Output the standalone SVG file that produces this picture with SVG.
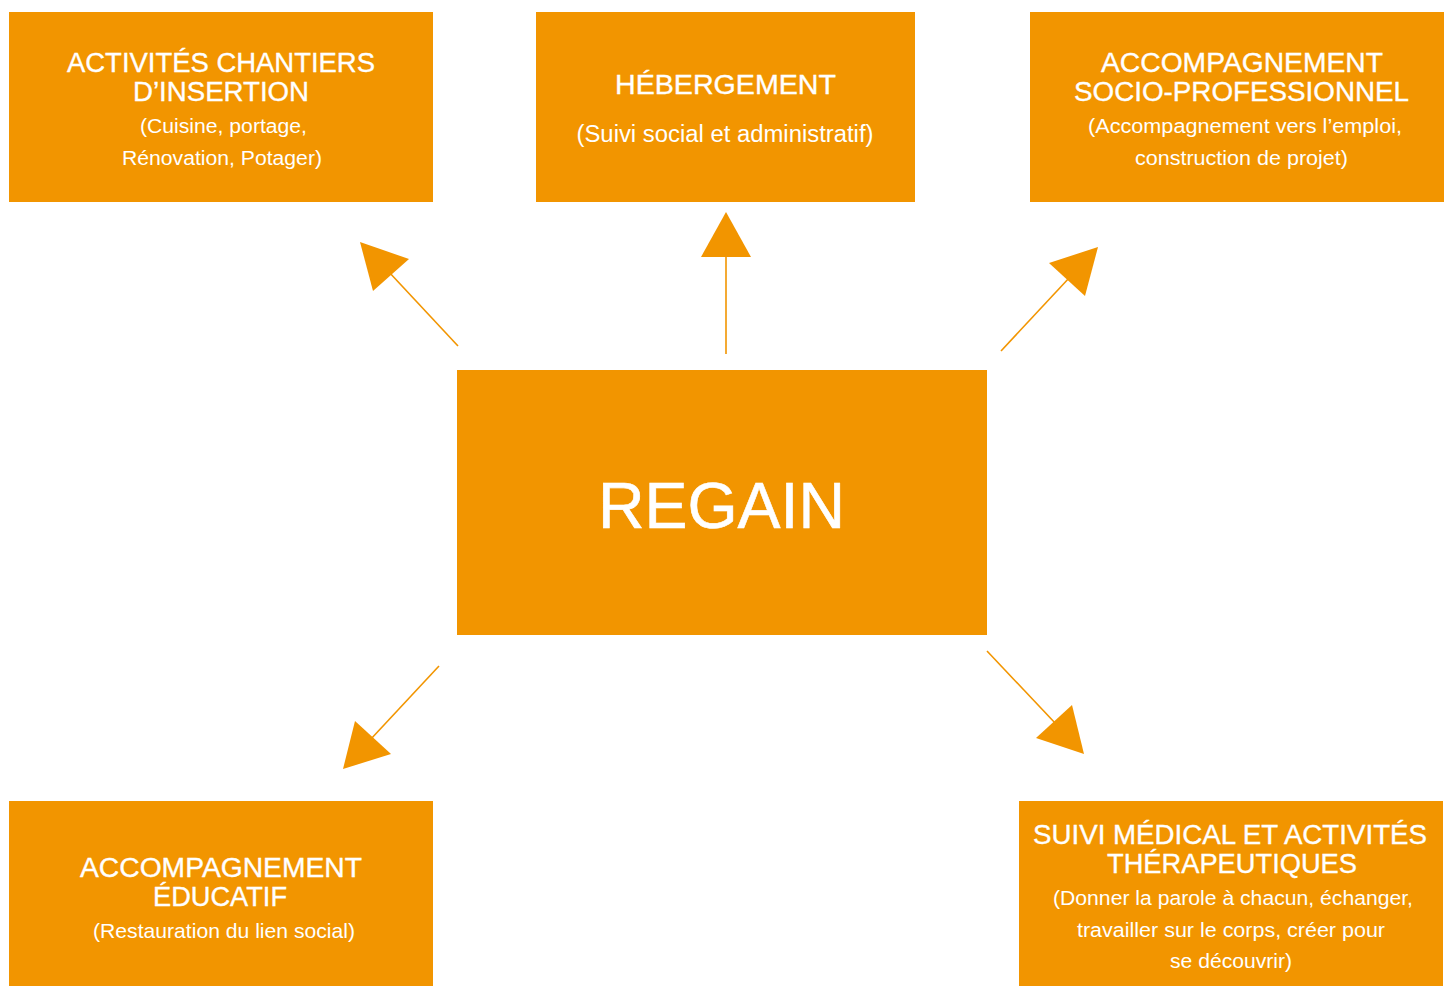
<svg xmlns="http://www.w3.org/2000/svg" width="1444" height="986" viewBox="0 0 1444 986">
<style>
.box{fill:#F29500}
.t{font-family:"Liberation Sans",Arial,Helvetica,sans-serif;fill:#fff;text-anchor:middle}
.h{font-size:27px;stroke:#fff;stroke-width:0.35}
.s{font-size:20px}
.c{stroke:#F29500;stroke-width:1.6;fill:none}
.ah{fill:#F29500}
</style>
<rect width="1444" height="986" fill="#fff"/>
<g id="connectors">
<line class="c" x1="458" y1="346" x2="388" y2="271"/>
<polygon class="ah" points="360,242 373,291 409,259"/>
<line class="c" x1="726" y1="354" x2="726" y2="256"/>
<polygon class="ah" points="726,212 701,257 751,257"/>
<line class="c" x1="1001" y1="351" x2="1070" y2="277"/>
<polygon class="ah" points="1098,247 1049,263 1085,296"/>
<line class="c" x1="439" y1="666" x2="370" y2="740"/>
<polygon class="ah" points="343,769 355,721 391,754"/>
<line class="c" x1="987" y1="651" x2="1056" y2="724"/>
<polygon class="ah" points="1084,754 1072,705 1036,738"/>
</g>
<g id="node-chantiers">
<rect class="box" x="9" y="12" width="424" height="190"/>
<text class="t h" x="221" y="72" textLength="308" lengthAdjust="spacingAndGlyphs">ACTIVITÉS CHANTIERS</text>
<text class="t h" x="221" y="101" textLength="176" lengthAdjust="spacingAndGlyphs">D’INSERTION</text>
<text class="t s" x="223.5" y="133" textLength="167" lengthAdjust="spacingAndGlyphs">(Cuisine, portage,</text>
<text class="t s" x="222" y="165" textLength="200" lengthAdjust="spacingAndGlyphs">Rénovation, Potager)</text>
</g>
<g id="node-hebergement">
<rect class="box" x="536" y="12" width="379" height="190"/>
<text class="t h" x="725.5" y="94" textLength="221" lengthAdjust="spacingAndGlyphs">HÉBERGEMENT</text>
<text class="t" style="font-size:23px" x="725" y="142" textLength="297" lengthAdjust="spacingAndGlyphs">(Suivi social et administratif)</text>
</g>
<g id="node-socio">
<rect class="box" x="1030" y="12" width="414" height="190"/>
<text class="t h" x="1242" y="72" textLength="282" lengthAdjust="spacingAndGlyphs">ACCOMPAGNEMENT</text>
<text class="t h" x="1241.5" y="101" textLength="335" lengthAdjust="spacingAndGlyphs">SOCIO-PROFESSIONNEL</text>
<text class="t s" x="1245" y="133" textLength="314" lengthAdjust="spacingAndGlyphs">(Accompagnement vers l’emploi,</text>
<text class="t s" x="1241.5" y="165" textLength="213" lengthAdjust="spacingAndGlyphs">construction de projet)</text>
</g>
<g id="node-regain">
<rect class="box" x="457" y="370" width="530" height="265"/>
<text class="t" style="font-size:64px;stroke:#fff;stroke-width:0.6" x="721.5" y="528" textLength="247" lengthAdjust="spacingAndGlyphs">REGAIN</text>
</g>
<g id="node-educatif">
<rect class="box" x="9" y="801" width="424" height="185"/>
<text class="t h" x="221" y="877" textLength="282" lengthAdjust="spacingAndGlyphs">ACCOMPAGNEMENT</text>
<text class="t h" x="220" y="906" textLength="134" lengthAdjust="spacingAndGlyphs">ÉDUCATIF</text>
<text class="t" style="font-size:21px" x="224" y="938" textLength="262" lengthAdjust="spacingAndGlyphs">(Restauration du lien social)</text>
</g>
<g id="node-medical">
<rect class="box" x="1019" y="801" width="424" height="185"/>
<text class="t h" x="1230" y="844" textLength="394" lengthAdjust="spacingAndGlyphs">SUIVI MÉDICAL ET ACTIVITÉS</text>
<text class="t h" x="1232" y="873" textLength="250" lengthAdjust="spacingAndGlyphs">THÉRAPEUTIQUES</text>
<text class="t s" x="1233" y="905" textLength="360" lengthAdjust="spacingAndGlyphs">(Donner la parole à chacun, échanger,</text>
<text class="t s" x="1231" y="937" textLength="308" lengthAdjust="spacingAndGlyphs">travailler sur le corps, créer pour</text>
<text class="t s" x="1231" y="968" textLength="122" lengthAdjust="spacingAndGlyphs">se découvrir)</text>
</g>
</svg>
